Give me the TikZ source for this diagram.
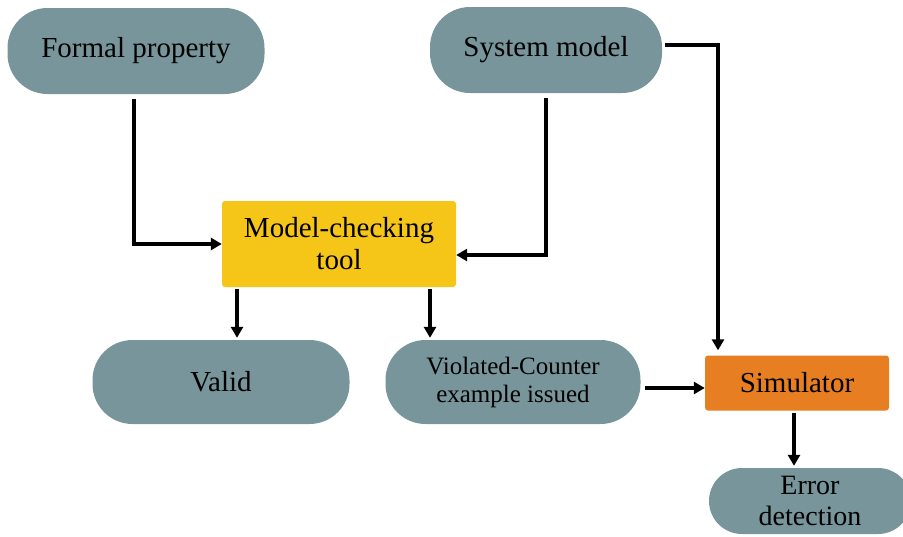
\documentclass[tikz,border=0pt]{standalone}
\usepackage{fontspec}
\setmainfont{Liberation Serif}
\usepackage{xcolor}
\usetikzlibrary{arrows.meta,positioning,calc}
\definecolor{slate}{HTML}{77959A}
\definecolor{amber}{HTML}{F5C518}
\definecolor{carrot}{HTML}{E87E22}

\begin{document}
\begin{tikzpicture}[
  x=1pt,y=-1pt,
  pill/.style={rounded corners=40pt,fill=slate,inner sep=0pt,align=center,
               minimum height=86pt,font=\fontsize{29}{32}\selectfont},
  tool/.style={rounded corners=3pt,inner sep=0pt,align=center,
               font=\fontsize{29}{32}\selectfont},
  arr/.style={-{Triangle[length=11pt,width=12pt]},line width=3.2pt,draw=black}
]
\clip (0,0) rectangle (903,536);
\node[pill,minimum width=257pt] (fp) at (136,51) {Formal property};
\node[pill,minimum width=232pt] (sm) at (546,50) {System model};
\node[tool,fill=amber,minimum width=234pt,minimum height=86pt] (mc) at (339,244)
  {Model-checking\\tool};
\node[pill,minimum width=257pt,minimum height=84pt] (va) at (221,382) {Valid};
\node[pill,minimum width=255pt,minimum height=84pt,
      font=\fontsize{25}{28}\selectfont] (vi) at (513,382)
  {Violated-Counter\\example issued};
\node[tool,fill=carrot,minimum width=184pt,minimum height=55pt] (sim) at (797,383)
  {Simulator};
\node[pill,rounded corners=33pt,minimum width=202pt,minimum height=66pt,
      font=\fontsize{28}{31}\selectfont] (er) at (810,501)
  {Error\\detection};
\draw[arr,shorten <=5pt] ([xshift=-2pt]fp.south) |- (mc.west);
\draw[arr,shorten <=5pt] (sm.south) |- ([yshift=-11pt]mc.east);
\draw[arr,shorten <=3pt,shorten >=5pt] ([yshift=5pt]sm.east) -| ([xshift=-79pt]sim.north);
\draw[arr,shorten <=2pt,shorten >=2pt] ([xshift=-102pt]mc.south) -- ([xshift=16pt]va.north);
\draw[arr,shorten <=2pt,shorten >=2pt] ([xshift=91pt]mc.south) -- ([xshift=-83pt]vi.north);
\draw[arr,shorten <=4pt] ([yshift=-6pt]vi.east) -- ([yshift=-5pt]sim.west);
\draw[arr,shorten <=2pt,shorten >=2pt] ([xshift=-3pt]sim.south) -- ([xshift=-16pt]er.north);
\end{tikzpicture}
\end{document}
